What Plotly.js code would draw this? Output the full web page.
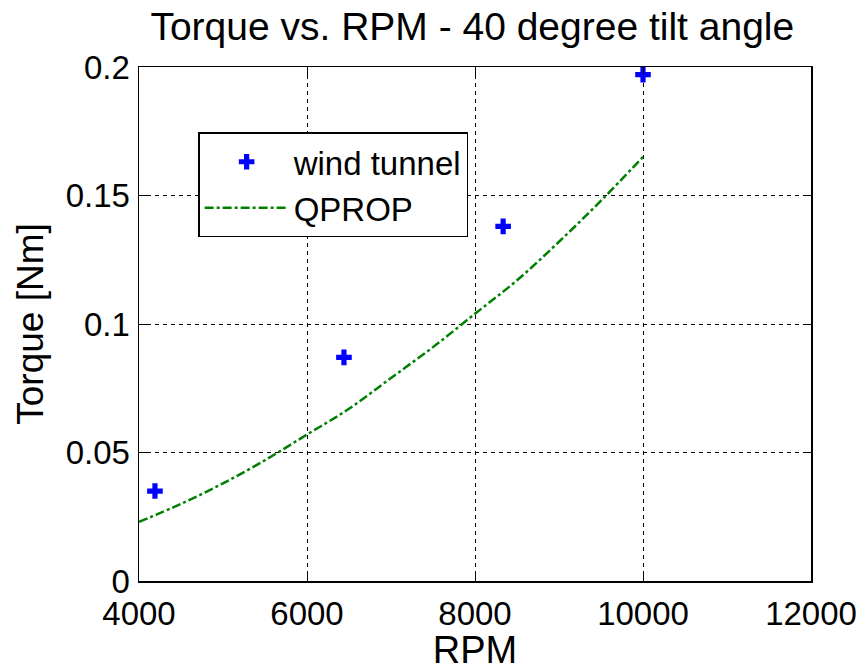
<!DOCTYPE html>
<html>
<head>
<meta charset="utf-8">
<script src="https://cdn.plot.ly/plotly-3.0.1.min.js"></script>
<style>body{margin:0;background:#fff}#chart{width:865px;height:671px}</style>
</head>
<body>
<div id="chart"></div>
<script>
var windRPM = [4190, 6440, 8335, 10000];
var windTorque = [0.035, 0.087, 0.138, 0.197];
var qpropRPM = [4000, 4500, 5000, 5500, 6000, 6500, 7000, 7500, 8000, 8500, 9000, 9500, 10000];
var qpropTorque = [0.023, 0.030, 0.038, 0.047, 0.057, 0.067, 0.079, 0.091, 0.104, 0.117, 0.132, 0.148, 0.165];
var xTicks = [4000, 6000, 8000, 10000, 12000];
var xTickText = ['4000', '6000', '8000', '10000', '12000'];
var yTicks = [0, 0.05, 0.1, 0.15, 0.2];
var yTickText = ['0', '0.05', '0.1', '0.15', '0.2'];

var font = 'Liberation Sans, Arial, sans-serif';
var traces = [
  {x: windRPM, y: windTorque, mode: 'markers', name: 'wind tunnel', type: 'scatter',
   marker: {symbol: 'cross', size: 13, color: '#0000ff', line: {width: 0}}},
  {x: qpropRPM, y: qpropTorque, mode: 'lines', name: 'QPROP', type: 'scatter',
   line: {color: '#008000', width: 2.5, dash: 'dashdot', shape: 'spline'}}
];
var axisCommon = {
  showline: true, linecolor: '#000', linewidth: 1.5, mirror: 'ticks',
  ticks: 'inside', ticklen: 8, tickcolor: '#000', tickwidth: 1,
  showgrid: true, gridcolor: '#000', gridwidth: 1, griddash: '4px,4px',
  zeroline: false, tickfont: {family: font, size: 33, color: '#000'}
};
var layout = {
  width: 865, height: 671,
  margin: {l: 139, r: 54, t: 67, b: 90},
  paper_bgcolor: '#fff', plot_bgcolor: '#fff',
  showlegend: true,
  title: {text: 'Torque vs. RPM - 40 degree tilt angle', font: {family: font, size: 39, color: '#000'},
          x: 0.546, xanchor: 'center', y: 0.96, yanchor: 'middle', xref: 'container', yref: 'container'},
  xaxis: Object.assign({}, axisCommon, {range: [4000, 12000], tickvals: xTicks, ticktext: xTickText,
    ticklabelstandoff: 3,
    title: {text: 'RPM', font: {family: font, size: 38, color: '#000'}, standoff: 4}}),
  yaxis: Object.assign({}, axisCommon, {range: [0, 0.2], tickvals: yTicks, ticktext: yTickText,
    ticklabelstandoff: 1,
    title: {text: 'Torque [Nm]', font: {family: font, size: 37, color: '#000'}, standoff: 10}}),
  legend: {x: 0.088, y: 0.873, xanchor: 'left', yanchor: 'top', bgcolor: '#fff',
    bordercolor: '#000', borderwidth: 1.5, font: {family: font, size: 33, color: '#000'},
    itemwidth: 84, tracegroupgap: 0, tracegap: 0}
};
Plotly.newPlot('chart', traces, layout, {displayModeBar: false, staticPlot: true});
</script>
</body>
</html>
